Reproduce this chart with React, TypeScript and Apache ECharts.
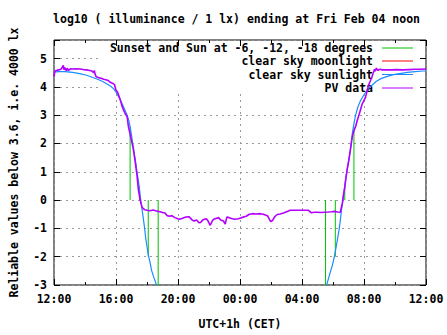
import React, { useEffect, useRef } from "react";
import * as echarts from "echarts";

// hours after 12:00 on the x axis
const tickLabels = ["12:00", "16:00", "20:00", "00:00", "04:00", "08:00", "12:00"];

const seriesNames = [
  "Sunset and Sun at -6, -12, -18 degrees",
  "clear sky moonlight",
  "clear sky sunlight",
  "PV data",
];
const seriesColors = ["#00c000", "#ff0000", "#1a8cff", "#b400ff"];

// Sunset / sun at -6, -12, -18 degrees markers (time, height)
const markerT = [4.91, 5.52, 6.08, 6.72, 17.52, 18.15, 18.76, 19.35];
const markerH = [2.6, 0.5, -2, -3.5, -3.5, -2, 0.5, 2.6];

// clear sky moonlight (below range)
const moonT: number[] = [];
const moonV: number[] = [];

// clear sky sunlight
const sunT = [
  0, 0.3, 0.7, 1.2, 1.66, 2.1, 2.5, 2.85, 3.14, 3.4, 3.66, 3.85, 4.0, 4.2, 4.4, 4.58, 4.72, 4.83,
  4.93, 5.0, 5.07, 5.14, 5.2, 5.28, 5.35, 5.43, 5.5, 5.56, 5.62, 5.7, 5.77, 5.85, 5.92, 6.0, 6.08,
  6.2, 6.3, 6.45, 6.57, 6.8, 12, 17.45, 17.62, 17.8, 17.98, 18.1, 18.19, 18.3, 18.4, 18.48, 18.55,
  18.64, 18.72, 18.8, 18.89, 19.0, 19.1, 19.18, 19.25, 19.35, 19.46, 19.6, 19.77, 20.0, 20.25,
  20.5, 20.8, 21.1, 21.5, 21.9, 22.3, 22.8, 23.3, 23.8, 24,
];
const sunV: (number | string)[] = [
  4.52, 4.54, 4.54, 4.51, 4.47, 4.41, 4.33, 4.26, 4.19, 4.11, 4.02, 3.93, 3.82, 3.62, 3.39, 3.17,
  3.0, 2.8, 2.54, 2.3, 2.03, 1.8, 1.58, 1.3, 1.01, 0.73, 0.45, 0.17, -0.12, -0.4, -0.68, -1.02,
  -1.36, -1.64, -1.92, -2.22, -2.49, -2.75, -2.94, -3.3, "-", -3.3, -2.94, -2.6, -2.26, -1.96,
  -1.7, -1.35, -1.02, -0.68, -0.34, 0.0, 0.34, 0.68, 1.01, 1.35, 1.69, 2.03, 2.37, 2.7, 3.0, 3.28,
  3.51, 3.72, 3.92, 4.05, 4.2, 4.29, 4.37, 4.43, 4.47, 4.51, 4.54, 4.56, 4.56,
];

// PV data
const pvT = [
  0, 0.05, 0.15, 0.3, 0.45, 0.55, 0.6, 0.65, 0.7, 0.8, 0.85, 0.95, 1.05, 1.2, 1.4, 1.66, 1.9, 2.1,
  2.3, 2.45, 2.55, 2.6, 2.65, 2.72, 2.9, 3.05, 3.2, 3.35, 3.5, 3.66, 3.8, 3.9, 4.0, 4.1, 4.2, 4.3,
  4.4, 4.5, 4.6, 4.72, 4.8, 4.9, 5.0, 5.1, 5.2, 5.3, 5.35, 5.45, 5.56, 5.67, 5.75, 5.87, 6.0, 6.2,
  6.4, 6.55, 6.72, 6.9, 7.05, 7.14, 7.3, 7.45, 7.6, 7.8, 7.98, 8.1, 8.3, 8.5, 8.72, 8.9, 9.03, 9.2,
  9.35, 9.46, 9.6, 9.7, 9.83, 9.95, 10.08, 10.2, 10.3, 10.45, 10.61, 10.75, 10.93, 11.05, 11.15,
  11.3, 11.5, 11.67, 11.9, 12.1, 12.4, 12.6, 12.8, 13.03, 13.3, 13.5, 13.77, 13.9, 13.98, 14.1,
  14.25, 14.4, 14.6, 14.85, 15.05, 15.24, 15.5, 15.77, 16.1, 16.4, 16.5, 16.6, 16.8, 17.0, 17.2,
  17.45, 17.7, 17.9, 18.09, 18.3, 18.47, 18.6, 18.68, 18.76, 18.85, 18.93, 19.02, 19.1, 19.18,
  19.25, 19.35, 19.46, 19.56, 19.67, 19.78, 19.88, 19.98, 20.09, 20.2, 20.3, 20.4, 20.51, 20.6,
  20.68, 20.72, 20.8, 20.9, 21.0, 21.2, 21.5, 21.8, 22.1, 22.5, 22.9, 23.3, 23.6, 24,
];
const pvV = [
  4.36, 4.55, 4.58, 4.6, 4.62, 4.7, 4.76, 4.6, 4.68, 4.56, 4.66, 4.58, 4.64, 4.63, 4.64, 4.63,
  4.61, 4.6, 4.58, 4.56, 4.5, 4.58, 4.45, 4.36, 4.32, 4.3, 4.27, 4.25, 4.22, 4.15, 4.12, 4.08,
  3.88, 3.82, 3.66, 3.5, 3.3, 3.17, 3.05, 2.94, 2.6, 2.35, 2.1, 1.85, 1.5, 1.1, 0.9, 0.34, 0.0,
  -0.23, -0.3, -0.34, -0.36, -0.38, -0.35, -0.38, -0.4, -0.42, -0.45, -0.45, -0.55, -0.57, -0.55,
  -0.62, -0.66, -0.68, -0.64, -0.6, -0.59, -0.7, -0.74, -0.7, -0.8, -0.79, -0.7, -0.68, -0.66,
  -0.75, -0.89, -0.75, -0.68, -0.65, -0.62, -0.7, -0.74, -0.85, -0.6, -0.62, -0.66, -0.68, -0.66,
  -0.62, -0.57, -0.5, -0.48, -0.49, -0.48, -0.5, -0.55, -0.68, -0.76, -0.72, -0.58, -0.51, -0.49,
  -0.45, -0.4, -0.36, -0.36, -0.36, -0.36, -0.36, -0.4, -0.45, -0.43, -0.43, -0.44, -0.43, -0.42,
  -0.41, -0.4, -0.42, -0.43, -0.12, 0.2, 0.45, 0.85, 1.13, 1.4, 1.69, 2.0, 2.26, 2.45, 2.6, 2.8,
  3.0, 3.2, 3.39, 3.5, 3.62, 3.85, 4.07, 4.2, 4.35, 4.5, 4.62, 4.55, 4.66, 4.58, 4.62, 4.6, 4.6,
  4.6, 4.61, 4.6, 4.61, 4.62, 4.62, 4.63,
];

const FONT = "DejaVu Sans Mono";
const FS = 11.5;

export default function App() {
  const ref = useRef<HTMLDivElement>(null);
  useEffect(() => {
    if (!ref.current) return;
    const chart = echarts.init(ref.current, null, { renderer: "svg" });

    const markerData: any[] = [];
    markerT.forEach((t, i) => {
      markerData.push([t, 0], [t, markerH[i]], [t, "-"]);
    });

    const textStyle = { fontFamily: FONT, fontWeight: "bold" as const, fontSize: FS, color: "#000" };
    const gridL = 47, gridT = 40, gridR = 426, gridB = 295;

    const legendRows = [48, 61, 74.5, 88];
    const legendGraphics: any[] = [
      {
        type: "rect",
        z: 1,
        shape: { x: 100, y: gridT + 1, width: gridR - 101, height: 52 },
        style: { fill: "#fff" },
        silent: true,
      },
      {
        type: "text",
        z: 1,
        x: (gridL + gridR) / 2,
        y: 19,
        style: {
          text: "log10 ( illuminance / 1 lx) ending at Fri Feb 04 noon",
          font: `bold ${FS}px '${FONT}'`,
          fill: "#000",
          align: "center",
          verticalAlign: "middle",
        },
      },
    ];
    seriesNames.forEach((name, i) => {
      legendGraphics.push({
        type: "text",
        z: 1,
        x: 373,
        y: legendRows[i],
        style: {
          text: name,
          font: `bold ${FS}px '${FONT}'`,
          fill: "#000",
          align: "right",
          verticalAlign: "middle",
        },
      });
      legendGraphics.push({
        type: "line",
        z: 1,
        shape: { x1: 382, y1: legendRows[i], x2: 413, y2: legendRows[i] },
        style: { stroke: seriesColors[i], lineWidth: 1 },
      });
    });

    const xCommon = {
      type: "value" as const,
      min: 0,
      max: 24,
      interval: 4,
    };
    const yCommon = {
      type: "value" as const,
      min: -3,
      max: 5.655,
      interval: 1,
    };
    const gridLine = {
      show: true,
      lineStyle: { color: "#999999", type: [2, 4] as any, width: 1 },
    };
    const tickStyle = { show: true, inside: true, length: 6, lineStyle: { color: "#000", width: 1 } };
    const minorStyle = { show: true, splitNumber: 2, length: 3, lineStyle: { color: "#000", width: 1 } };

    chart.setOption({
      animation: false,
      backgroundColor: "#fff",
      grid: {
        left: gridL,
        top: gridT,
        right: 447 - gridR,
        bottom: 335 - gridB,
        show: true,
        borderColor: "#000",
        borderWidth: 1,
        backgroundColor: "rgba(0,0,0,0)",
      },
      xAxis: [
        {
          ...xCommon,
          position: "bottom",
          name: "UTC+1h (CET)",
          nameLocation: "middle",
          nameGap: 33,
          nameTextStyle: textStyle,
          axisLine: { show: false, onZero: false },
          axisTick: tickStyle,
          minorTick: minorStyle,
          axisLabel: {
            ...textStyle,
            margin: 8,
            formatter: (v: number) => tickLabels[Math.round(v / 4)] ?? "",
          },
          splitLine: gridLine,
        },
        {
          ...xCommon,
          position: "top",
          z: 3,
          axisLine: { show: false, onZero: false },
          axisTick: tickStyle,
          minorTick: minorStyle,
          axisLabel: { show: false },
          splitLine: { show: false },
        },
      ],
      yAxis: [
        {
          ...yCommon,
          position: "left",
          name: "Reliable values below 3.6, i.e. 4000 lx",
          nameLocation: "middle",
          nameGap: 34,
          nameRotate: 90,
          nameTextStyle: textStyle,
          axisLine: { show: false, onZero: false },
          axisTick: tickStyle,
          axisLabel: {
            ...textStyle,
            margin: 7,
            formatter: (v: number) => (Math.abs(v - Math.round(v)) < 1e-6 ? String(Math.round(v)) : ""),
          },
          splitLine: gridLine,
        },
        {
          ...yCommon,
          position: "right",
          z: 3,
          axisLine: { show: false, onZero: false },
          axisTick: tickStyle,
          axisLabel: { show: false },
          splitLine: { show: false },
        },
      ],
      graphic: legendGraphics,
      series: [
        {
          name: seriesNames[0],
          type: "line",
          xAxisIndex: 0,
          yAxisIndex: 0,
          data: markerData,
          showSymbol: false,
          connectNulls: false,
          lineStyle: { color: seriesColors[0], width: 1 },
          z: 2,
        },
        {
          name: seriesNames[1],
          type: "line",
          data: moonT.map((t, i) => [t, moonV[i]]),
          showSymbol: false,
          lineStyle: { color: seriesColors[1], width: 1 },
          z: 2,
        },
        {
          name: seriesNames[2],
          type: "line",
          data: sunT.map((t, i) => [t, sunV[i]]),
          showSymbol: false,
          connectNulls: false,
          lineStyle: { color: seriesColors[2], width: 1.2 },
          z: 3,
        },
        {
          name: seriesNames[3],
          type: "line",
          data: pvT.map((t, i) => [t, pvV[i]]),
          showSymbol: false,
          lineStyle: { color: seriesColors[3], width: 1.6 },
          z: 4,
        },
      ],
    });
    return () => chart.dispose();
  }, []);
  return <div ref={ref} style={{ width: 447, height: 335, position: "absolute", left: 0, top: 0 }} />;
}
